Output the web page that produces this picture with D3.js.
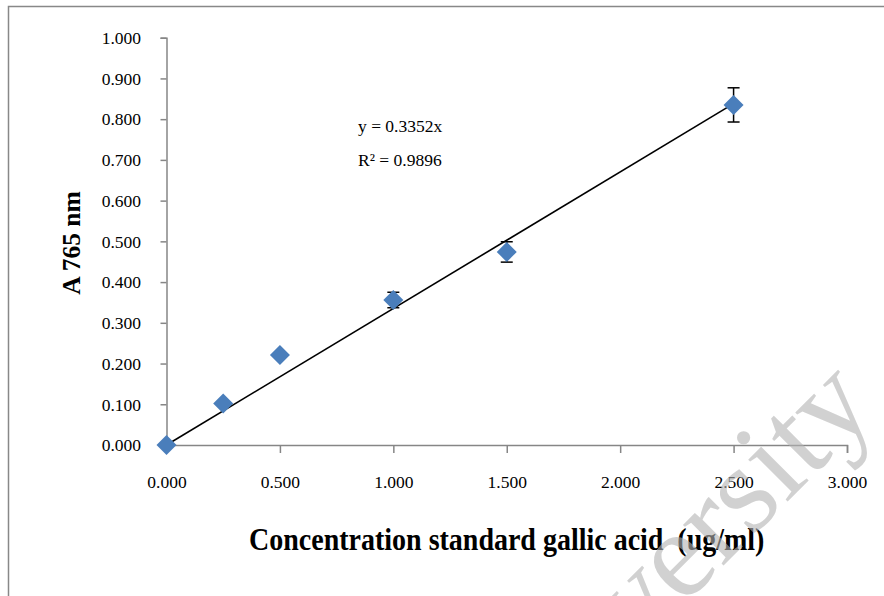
<!DOCTYPE html>
<html>
<head>
<meta charset="utf-8">
<script src="https://cdn.jsdelivr.net/npm/d3@7"></script>
<style>
  body { margin: 0; background: #fff; }
  svg text { font-family: "Liberation Serif", "Times New Roman", serif; }
</style>
</head>
<body>
<svg id="chart" width="884" height="596"></svg>
<script>
// concentration (ug/ml) and absorbance
const concentration = [0, 0.25, 0.5, 1.0, 1.5, 2.5]
const absorbance = [0.000, 0.102, 0.221, 0.356, 0.474, 0.835]
const errors = [0, 0.004, 0.006, 0.019, 0.025, 0.042]
const slope = 0.3352
const xTicks = [0, 0.5, 1.0, 1.5, 2.0, 2.5, 3.0]
const yTicks = [0, 0.1, 0.2, 0.3, 0.4, 0.5, 0.6, 0.7, 0.8, 0.9, 1.0]

const svg = d3.select("#chart")
const x = d3.scaleLinear().domain([0, 3]).range([166.5, 847])
const y = d3.scaleLinear().domain([0, 1]).range([445, 37.7])
const fmt = d3.format(".3f")

// outer frame
svg.append("path")
    .attr("d", "M8.5,600 V6.5 H890")
    .attr("fill", "none")
    .attr("stroke", "#888")
    .attr("stroke-width", 1.5)

const axisStyle = g => {
    g.select(".domain").attr("stroke", "#868686").attr("stroke-width", 1.5)
    g.selectAll(".tick line").attr("stroke", "#868686").attr("stroke-width", 1.5)
    g.selectAll(".tick text").attr("font-size", 17.5).attr("fill", "#000")
}

const xAxis = svg.append("g")
    .attr("transform", `translate(0,${y(0)})`)
    .call(d3.axisBottom(x).tickValues(xTicks).tickFormat(fmt).tickSizeOuter(0).tickSize(8))
    .call(axisStyle)
xAxis.selectAll(".tick text").attr("dy", null).attr("y", 43)

const yAxis = svg.append("g")
    .attr("transform", `translate(${x(0)},0)`)
    .call(d3.axisLeft(y).tickValues(yTicks).tickFormat(fmt).tickSizeOuter(0).tickSize(6))
    .call(axisStyle)
yAxis.selectAll(".tick text").attr("x", -25.5).attr("dy", "0.33em")

// trendline
svg.append("line")
    .attr("x1", x(0)).attr("y1", y(0))
    .attr("x2", x(2.5)).attr("y2", y(slope * 2.5))
    .attr("stroke", "#000")
    .attr("stroke-width", 1.6)

const pts = concentration.map((c, i) => ({ c, a: absorbance[i], e: errors[i] }))

// error bars
const eb = svg.append("g").attr("stroke", "#000").attr("stroke-width", 1.5)
pts.filter(d => d.e > 0).forEach(d => {
    eb.append("line").attr("x1", x(d.c)).attr("x2", x(d.c)).attr("y1", y(d.a - d.e)).attr("y2", y(d.a + d.e))
    eb.append("line").attr("x1", x(d.c) - 6).attr("x2", x(d.c) + 6).attr("y1", y(d.a - d.e)).attr("y2", y(d.a - d.e))
    eb.append("line").attr("x1", x(d.c) - 6).attr("x2", x(d.c) + 6).attr("y1", y(d.a + d.e)).attr("y2", y(d.a + d.e))
})

// markers
svg.append("g")
    .selectAll("path")
    .data(pts)
    .enter()
    .append("path")
    .attr("d", d => {
        const cx = x(d.c), cy = y(d.a), r = 10
        return `M${cx},${cy - r} L${cx + r},${cy} L${cx},${cy + r} L${cx - r},${cy} Z`
    })
    .attr("fill", "#4a7ebb")

// equation
svg.append("text").attr("x", 358).attr("y", 132).attr("font-size", 17.5).text("y = 0.3352x")
svg.append("text").attr("x", 358).attr("y", 166).attr("font-size", 17.5).text("R² = 0.9896")

// axis titles
svg.append("text")
    .attr("transform", `translate(${(x(0) + x(3)) / 2},550) scale(0.875,1)`)
    .attr("text-anchor", "middle")
    .attr("font-size", 32).attr("font-weight", "bold")
    .style("white-space", "pre")
    .text("Concentration standard gallic acid  (ug/ml)")

svg.append("text")
    .attr("transform", "translate(80,243) rotate(-90)")
    .attr("text-anchor", "middle")
    .attr("font-size", 25.5).attr("font-weight", "bold")
    .text("A 765 nm")

// watermark
svg.append("text")
    .attr("transform", "translate(879,410) rotate(-45)")
    .attr("text-anchor", "end")
    .attr("font-size", 125)
    .attr("fill", "#b4b4b4")
    .attr("opacity", 0.6)
    .text("University")
</script>
</body>
</html>
